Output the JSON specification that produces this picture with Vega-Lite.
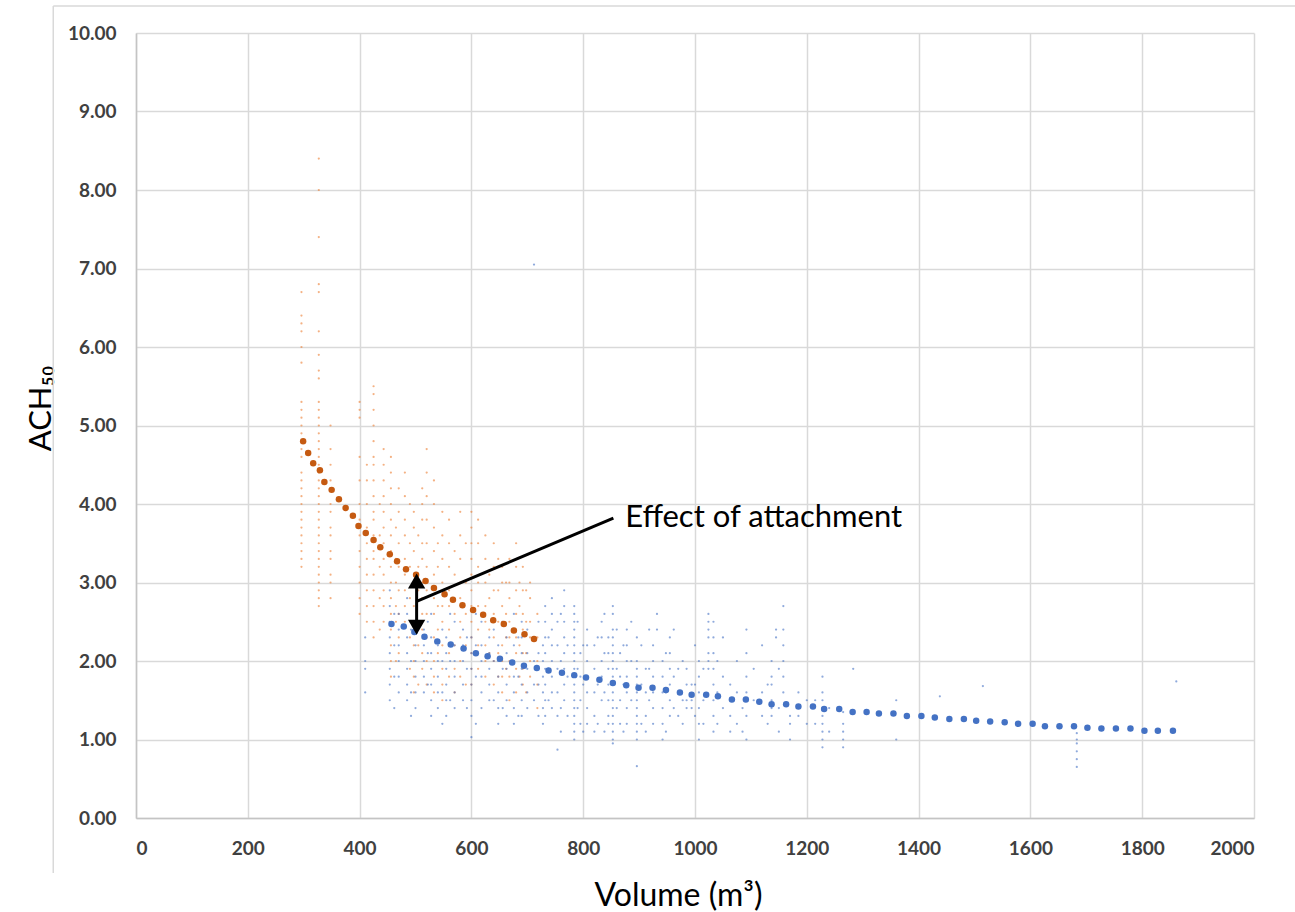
{
  "$schema": "https://vega.github.io/schema/vega-lite/v6.json",
  "width": 1118,
  "height": 785,
  "autosize": "none",
  "padding": {"left": 136, "top": 33, "right": 41, "bottom": 94},
  "background": "white",
  "config": {
    "view": {"stroke": null},
    "axis": {
      "labelFont": "Lato",
      "labelFontSize": 19,
      "labelFontWeight": "bold",
      "labelColor": "#404040",
      "titleFont": "Lato",
      "titleFontWeight": "normal",
      "titleColor": "#000000",
      "gridColor": "#d9d9d9",
      "gridWidth": 1.5,
      "domainColor": "#c4c4c4",
      "domainWidth": 1.5,
      "ticks": false
    }
  },
  "datasets": {
    "frame": [
      {"x": -148, "y": -0.70, "x2": -148, "y2": 10.345},
      {"x": -148, "y": 10.345, "x2": 2075, "y2": 10.345}
    ],
    "scatter": [
      {"s":"attached","x":296,"y":6.7},{"s":"attached","x":296,"y":6.4},{"s":"attached","x":296,"y":6.3},{"s":"attached","x":296,"y":6.2},{"s":"attached","x":296,"y":6.0},{"s":"attached","x":296,"y":5.8},{"s":"attached","x":296,"y":5.3},{"s":"attached","x":296,"y":5.2},{"s":"attached","x":296,"y":5.1},{"s":"attached","x":296,"y":5.0},{"s":"attached","x":296,"y":4.9},{"s":"attached","x":296,"y":4.7},{"s":"attached","x":296,"y":4.6},{"s":"attached","x":296,"y":4.4},{"s":"attached","x":296,"y":4.3},{"s":"attached","x":296,"y":4.2},{"s":"attached","x":296,"y":4.1},{"s":"attached","x":296,"y":4.0},{"s":"attached","x":296,"y":3.9},{"s":"attached","x":296,"y":3.8},{"s":"attached","x":296,"y":3.7},{"s":"attached","x":296,"y":3.6},{"s":"attached","x":296,"y":3.5},{"s":"attached","x":296,"y":3.4},{"s":"attached","x":296,"y":3.3},{"s":"attached","x":296,"y":3.2},
      {"s":"attached","x":327,"y":8.4},{"s":"attached","x":327,"y":8.0},{"s":"attached","x":327,"y":7.4},{"s":"attached","x":327,"y":6.8},{"s":"attached","x":327,"y":6.7},{"s":"attached","x":327,"y":6.2},{"s":"attached","x":327,"y":5.9},{"s":"attached","x":327,"y":5.7},{"s":"attached","x":327,"y":5.6},{"s":"attached","x":327,"y":5.3},{"s":"attached","x":327,"y":5.2},{"s":"attached","x":327,"y":5.1},{"s":"attached","x":327,"y":5.0},{"s":"attached","x":327,"y":4.9},{"s":"attached","x":327,"y":4.8},{"s":"attached","x":327,"y":4.7},{"s":"attached","x":327,"y":4.6},{"s":"attached","x":327,"y":4.5},{"s":"attached","x":327,"y":4.4},{"s":"attached","x":327,"y":4.3},{"s":"attached","x":327,"y":4.2},{"s":"attached","x":327,"y":4.1},{"s":"attached","x":327,"y":4.0},{"s":"attached","x":327,"y":3.9},{"s":"attached","x":327,"y":3.8},{"s":"attached","x":327,"y":3.7},{"s":"attached","x":327,"y":3.6},{"s":"attached","x":327,"y":3.5},{"s":"attached","x":327,"y":3.4},{"s":"attached","x":327,"y":3.3},{"s":"attached","x":327,"y":3.2},{"s":"attached","x":327,"y":3.1},{"s":"attached","x":327,"y":3.0},{"s":"attached","x":327,"y":2.9},{"s":"attached","x":327,"y":2.8},{"s":"attached","x":327,"y":2.7},
      {"s":"attached","x":348,"y":5.0},{"s":"attached","x":348,"y":4.7},{"s":"attached","x":348,"y":4.5},{"s":"attached","x":348,"y":4.3},{"s":"attached","x":348,"y":4.2},{"s":"attached","x":348,"y":4.0},{"s":"attached","x":348,"y":3.9},{"s":"attached","x":348,"y":3.7},{"s":"attached","x":348,"y":3.6},{"s":"attached","x":348,"y":3.4},{"s":"attached","x":348,"y":3.3},{"s":"attached","x":348,"y":3.1},{"s":"attached","x":348,"y":3.0},{"s":"attached","x":348,"y":2.8},
      {"s":"attached","x":400,"y":5.3},{"s":"attached","x":400,"y":5.2},{"s":"attached","x":400,"y":5.1},{"s":"attached","x":400,"y":4.6},{"s":"attached","x":400,"y":4.3},{"s":"attached","x":400,"y":4.0},{"s":"attached","x":400,"y":3.8},{"s":"attached","x":400,"y":3.6},{"s":"attached","x":400,"y":3.4},{"s":"attached","x":400,"y":3.2},{"s":"attached","x":400,"y":3.0},{"s":"attached","x":400,"y":2.8},{"s":"attached","x":400,"y":2.6},
      {"s":"attached","x":413,"y":4.5},{"s":"attached","x":413,"y":4.3},{"s":"attached","x":413,"y":4.0},{"s":"attached","x":413,"y":3.7},{"s":"attached","x":413,"y":3.5},{"s":"attached","x":413,"y":3.3},{"s":"attached","x":413,"y":3.1},{"s":"attached","x":413,"y":2.9},{"s":"attached","x":413,"y":2.7},{"s":"attached","x":413,"y":2.5},
      {"s":"attached","x":425,"y":5.5},{"s":"attached","x":425,"y":5.4},{"s":"attached","x":425,"y":5.2},{"s":"attached","x":425,"y":5.0},{"s":"attached","x":425,"y":4.8},{"s":"attached","x":425,"y":4.6},{"s":"attached","x":425,"y":4.5},{"s":"attached","x":425,"y":4.3},{"s":"attached","x":425,"y":4.1},{"s":"attached","x":425,"y":3.9},{"s":"attached","x":425,"y":3.8},{"s":"attached","x":425,"y":3.6},{"s":"attached","x":425,"y":3.4},{"s":"attached","x":425,"y":3.3},{"s":"attached","x":425,"y":3.1},{"s":"attached","x":425,"y":2.9},{"s":"attached","x":425,"y":2.7},{"s":"attached","x":425,"y":2.5},{"s":"attached","x":425,"y":2.3},
      {"s":"attached","x":436,"y":4.0},{"s":"attached","x":436,"y":3.6},{"s":"attached","x":436,"y":3.2},{"s":"attached","x":436,"y":2.8},{"s":"attached","x":436,"y":2.4},
      {"s":"attached","x":443,"y":4.7},{"s":"attached","x":443,"y":4.5},{"s":"attached","x":443,"y":4.3},{"s":"attached","x":443,"y":4.1},{"s":"attached","x":443,"y":3.9},{"s":"attached","x":443,"y":3.7},{"s":"attached","x":443,"y":3.5},{"s":"attached","x":443,"y":3.3},{"s":"attached","x":443,"y":3.1},{"s":"attached","x":443,"y":2.9},{"s":"attached","x":443,"y":2.7},{"s":"attached","x":443,"y":2.5},
      {"s":"attached","x":456,"y":4.6},{"s":"attached","x":456,"y":4.4},{"s":"attached","x":456,"y":4.2},{"s":"attached","x":456,"y":4.0},{"s":"attached","x":456,"y":3.8},{"s":"attached","x":456,"y":3.6},{"s":"attached","x":456,"y":3.4},{"s":"attached","x":456,"y":3.2},{"s":"attached","x":456,"y":3.0},{"s":"attached","x":456,"y":2.8},{"s":"attached","x":456,"y":2.6},{"s":"attached","x":456,"y":2.4},{"s":"attached","x":456,"y":2.2},{"s":"attached","x":456,"y":2.0},{"s":"attached","x":456,"y":1.8},
      {"s":"attached","x":465,"y":3.7},{"s":"attached","x":465,"y":3.3},{"s":"attached","x":465,"y":3.0},{"s":"attached","x":465,"y":2.7},{"s":"attached","x":465,"y":2.5},{"s":"attached","x":465,"y":2.0},
      {"s":"attached","x":470,"y":4.2},{"s":"attached","x":470,"y":3.9},{"s":"attached","x":470,"y":3.5},{"s":"attached","x":470,"y":3.2},{"s":"attached","x":470,"y":2.9},{"s":"attached","x":470,"y":2.6},{"s":"attached","x":470,"y":2.3},{"s":"attached","x":470,"y":2.1},
      {"s":"attached","x":481,"y":4.4},{"s":"attached","x":481,"y":4.1},{"s":"attached","x":481,"y":3.8},{"s":"attached","x":481,"y":3.6},{"s":"attached","x":481,"y":3.3},{"s":"attached","x":481,"y":3.1},{"s":"attached","x":481,"y":2.9},{"s":"attached","x":481,"y":2.7},{"s":"attached","x":481,"y":2.5},
      {"s":"attached","x":490,"y":4.0},{"s":"attached","x":490,"y":3.5},{"s":"attached","x":490,"y":3.2},{"s":"attached","x":490,"y":2.8},{"s":"attached","x":490,"y":2.3},{"s":"attached","x":490,"y":1.9},
      {"s":"attached","x":497,"y":3.9},{"s":"attached","x":497,"y":3.7},{"s":"attached","x":497,"y":3.4},{"s":"attached","x":497,"y":3.0},{"s":"attached","x":497,"y":2.7},{"s":"attached","x":497,"y":2.4},{"s":"attached","x":497,"y":2.2},{"s":"attached","x":497,"y":2.0},{"s":"attached","x":497,"y":1.8},{"s":"attached","x":497,"y":1.6},
      {"s":"attached","x":505,"y":3.6},{"s":"attached","x":505,"y":3.2},{"s":"attached","x":505,"y":2.9},{"s":"attached","x":505,"y":2.5},{"s":"attached","x":505,"y":2.2},{"s":"attached","x":505,"y":1.7},
      {"s":"attached","x":512,"y":4.2},{"s":"attached","x":512,"y":4.0},{"s":"attached","x":512,"y":3.8},{"s":"attached","x":512,"y":3.5},{"s":"attached","x":512,"y":3.3},{"s":"attached","x":512,"y":3.0},{"s":"attached","x":512,"y":2.8},{"s":"attached","x":512,"y":2.6},{"s":"attached","x":512,"y":2.4},{"s":"attached","x":512,"y":2.1},{"s":"attached","x":512,"y":1.9},
      {"s":"attached","x":520,"y":4.7},{"s":"attached","x":520,"y":4.4},{"s":"attached","x":520,"y":4.1},{"s":"attached","x":520,"y":3.8},{"s":"attached","x":520,"y":3.5},{"s":"attached","x":520,"y":3.2},{"s":"attached","x":520,"y":2.9},{"s":"attached","x":520,"y":2.6},{"s":"attached","x":520,"y":2.3},{"s":"attached","x":520,"y":2.0},{"s":"attached","x":520,"y":1.7},
      {"s":"attached","x":533,"y":4.3},{"s":"attached","x":533,"y":4.0},{"s":"attached","x":533,"y":3.7},{"s":"attached","x":533,"y":3.4},{"s":"attached","x":533,"y":3.1},{"s":"attached","x":533,"y":2.8},{"s":"attached","x":533,"y":2.6},{"s":"attached","x":533,"y":2.3},{"s":"attached","x":533,"y":2.0},{"s":"attached","x":533,"y":1.8},{"s":"attached","x":533,"y":1.6},
      {"s":"attached","x":540,"y":3.5},{"s":"attached","x":540,"y":3.2},{"s":"attached","x":540,"y":2.7},{"s":"attached","x":540,"y":2.4},{"s":"attached","x":540,"y":2.1},
      {"s":"attached","x":548,"y":3.9},{"s":"attached","x":548,"y":3.6},{"s":"attached","x":548,"y":3.3},{"s":"attached","x":548,"y":3.0},{"s":"attached","x":548,"y":2.7},{"s":"attached","x":548,"y":2.5},{"s":"attached","x":548,"y":2.2},{"s":"attached","x":548,"y":1.9},{"s":"attached","x":548,"y":1.7},{"s":"attached","x":548,"y":1.5},
      {"s":"attached","x":560,"y":3.8},{"s":"attached","x":560,"y":3.5},{"s":"attached","x":560,"y":3.2},{"s":"attached","x":560,"y":2.9},{"s":"attached","x":560,"y":2.7},{"s":"attached","x":560,"y":2.4},{"s":"attached","x":560,"y":2.1},{"s":"attached","x":560,"y":1.8},
      {"s":"attached","x":570,"y":3.4},{"s":"attached","x":570,"y":3.1},{"s":"attached","x":570,"y":2.6},{"s":"attached","x":570,"y":2.2},{"s":"attached","x":570,"y":1.9},{"s":"attached","x":570,"y":1.6},
      {"s":"attached","x":580,"y":3.9},{"s":"attached","x":580,"y":3.6},{"s":"attached","x":580,"y":3.3},{"s":"attached","x":580,"y":3.0},{"s":"attached","x":580,"y":2.8},{"s":"attached","x":580,"y":2.5},{"s":"attached","x":580,"y":2.3},{"s":"attached","x":580,"y":2.0},{"s":"attached","x":580,"y":1.8},
      {"s":"attached","x":590,"y":3.5},{"s":"attached","x":590,"y":3.0},{"s":"attached","x":590,"y":2.6},{"s":"attached","x":590,"y":2.2},{"s":"attached","x":590,"y":1.7},
      {"s":"attached","x":600,"y":3.9},{"s":"attached","x":600,"y":3.7},{"s":"attached","x":600,"y":3.5},{"s":"attached","x":600,"y":3.3},{"s":"attached","x":600,"y":3.1},{"s":"attached","x":600,"y":2.9},{"s":"attached","x":600,"y":2.7},{"s":"attached","x":600,"y":2.5},{"s":"attached","x":600,"y":2.3},{"s":"attached","x":600,"y":2.1},{"s":"attached","x":600,"y":1.9},{"s":"attached","x":600,"y":1.7},
      {"s":"attached","x":612,"y":3.8},{"s":"attached","x":612,"y":3.5},{"s":"attached","x":612,"y":3.2},{"s":"attached","x":612,"y":3.0},{"s":"attached","x":612,"y":2.7},{"s":"attached","x":612,"y":2.4},{"s":"attached","x":612,"y":2.2},{"s":"attached","x":612,"y":1.9},
      {"s":"attached","x":625,"y":3.6},{"s":"attached","x":625,"y":3.3},{"s":"attached","x":625,"y":3.0},{"s":"attached","x":625,"y":2.7},{"s":"attached","x":625,"y":2.5},{"s":"attached","x":625,"y":2.2},{"s":"attached","x":625,"y":2.0},{"s":"attached","x":625,"y":1.8},
      {"s":"attached","x":632,"y":3.1},{"s":"attached","x":632,"y":2.8},{"s":"attached","x":632,"y":2.4},{"s":"attached","x":632,"y":2.1},
      {"s":"attached","x":640,"y":3.5},{"s":"attached","x":640,"y":3.2},{"s":"attached","x":640,"y":2.9},{"s":"attached","x":640,"y":2.6},{"s":"attached","x":640,"y":2.3},{"s":"attached","x":640,"y":2.0},{"s":"attached","x":640,"y":1.7},
      {"s":"attached","x":648,"y":3.3},{"s":"attached","x":648,"y":2.9},{"s":"attached","x":648,"y":2.5},{"s":"attached","x":648,"y":2.1},{"s":"attached","x":648,"y":1.8},
      {"s":"attached","x":655,"y":3.2},{"s":"attached","x":655,"y":3.0},{"s":"attached","x":655,"y":2.7},{"s":"attached","x":655,"y":2.5},{"s":"attached","x":655,"y":2.2},{"s":"attached","x":655,"y":2.0},{"s":"attached","x":655,"y":1.8},{"s":"attached","x":655,"y":1.6},
      {"s":"attached","x":662,"y":3.0},{"s":"attached","x":662,"y":2.6},{"s":"attached","x":662,"y":2.3},{"s":"attached","x":662,"y":1.9},
      {"s":"attached","x":668,"y":3.3},{"s":"attached","x":668,"y":3.0},{"s":"attached","x":668,"y":2.8},{"s":"attached","x":668,"y":2.5},{"s":"attached","x":668,"y":2.3},{"s":"attached","x":668,"y":2.0},{"s":"attached","x":668,"y":1.8},{"s":"attached","x":668,"y":1.5},
      {"s":"attached","x":680,"y":3.5},{"s":"attached","x":680,"y":3.2},{"s":"attached","x":680,"y":2.9},{"s":"attached","x":680,"y":2.6},{"s":"attached","x":680,"y":2.3},{"s":"attached","x":680,"y":2.1},{"s":"attached","x":680,"y":1.9},{"s":"attached","x":680,"y":1.6},
      {"s":"attached","x":686,"y":3.0},{"s":"attached","x":686,"y":2.7},{"s":"attached","x":686,"y":2.2},{"s":"attached","x":686,"y":1.8},
      {"s":"attached","x":692,"y":3.2},{"s":"attached","x":692,"y":2.9},{"s":"attached","x":692,"y":2.6},{"s":"attached","x":692,"y":2.4},{"s":"attached","x":692,"y":2.1},{"s":"attached","x":692,"y":1.9},{"s":"attached","x":692,"y":1.7},
      {"s":"attached","x":698,"y":2.9},{"s":"attached","x":698,"y":2.5},{"s":"attached","x":698,"y":2.1},{"s":"attached","x":698,"y":1.6},
      {"s":"attached","x":705,"y":3.0},{"s":"attached","x":705,"y":2.8},{"s":"attached","x":705,"y":2.5},{"s":"attached","x":705,"y":2.3},{"s":"attached","x":705,"y":2.0},{"s":"attached","x":705,"y":1.8},
      {"s":"attached","x":718,"y":2.6},{"s":"attached","x":718,"y":2.3},{"s":"attached","x":718,"y":2.0},{"s":"attached","x":718,"y":1.7},{"s":"attached","x":718,"y":1.4},

      {"s":"detached","x":410,"y":2.3},{"s":"detached","x":410,"y":2.0},{"s":"detached","x":410,"y":1.9},{"s":"detached","x":410,"y":1.6},
      {"s":"detached","x":454,"y":2.9},{"s":"detached","x":454,"y":2.7},{"s":"detached","x":454,"y":2.5},{"s":"detached","x":454,"y":2.3},{"s":"detached","x":454,"y":2.1},{"s":"detached","x":454,"y":1.9},{"s":"detached","x":454,"y":1.7},{"s":"detached","x":454,"y":1.5},
      {"s":"detached","x":462,"y":2.6},{"s":"detached","x":462,"y":2.2},{"s":"detached","x":462,"y":1.8},{"s":"detached","x":462,"y":1.4},
      {"s":"detached","x":470,"y":2.6},{"s":"detached","x":470,"y":2.4},{"s":"detached","x":470,"y":2.2},{"s":"detached","x":470,"y":2.0},{"s":"detached","x":470,"y":1.8},{"s":"detached","x":470,"y":1.6},
      {"s":"detached","x":485,"y":2.8},{"s":"detached","x":485,"y":2.6},{"s":"detached","x":485,"y":2.3},{"s":"detached","x":485,"y":2.1},{"s":"detached","x":485,"y":1.9},{"s":"detached","x":485,"y":1.7},{"s":"detached","x":485,"y":1.5},
      {"s":"detached","x":492,"y":2.4},{"s":"detached","x":492,"y":2.0},{"s":"detached","x":492,"y":1.6},{"s":"detached","x":492,"y":1.3},
      {"s":"detached","x":500,"y":2.5},{"s":"detached","x":500,"y":2.2},{"s":"detached","x":500,"y":2.0},{"s":"detached","x":500,"y":1.8},{"s":"detached","x":500,"y":1.6},{"s":"detached","x":500,"y":1.4},
      {"s":"detached","x":515,"y":2.4},{"s":"detached","x":515,"y":2.2},{"s":"detached","x":515,"y":2.0},{"s":"detached","x":515,"y":1.8},{"s":"detached","x":515,"y":1.6},
      {"s":"detached","x":522,"y":2.5},{"s":"detached","x":522,"y":2.1},{"s":"detached","x":522,"y":1.7},
      {"s":"detached","x":528,"y":2.6},{"s":"detached","x":528,"y":2.3},{"s":"detached","x":528,"y":2.1},{"s":"detached","x":528,"y":1.9},{"s":"detached","x":528,"y":1.7},{"s":"detached","x":528,"y":1.5},{"s":"detached","x":528,"y":1.3},
      {"s":"detached","x":540,"y":2.2},{"s":"detached","x":540,"y":2.0},{"s":"detached","x":540,"y":1.8},{"s":"detached","x":540,"y":1.6},{"s":"detached","x":540,"y":1.4},
      {"s":"detached","x":548,"y":2.4},{"s":"detached","x":548,"y":2.0},{"s":"detached","x":548,"y":1.6},{"s":"detached","x":548,"y":1.2},
      {"s":"detached","x":555,"y":2.3},{"s":"detached","x":555,"y":2.1},{"s":"detached","x":555,"y":1.9},{"s":"detached","x":555,"y":1.7},{"s":"detached","x":555,"y":1.5},{"s":"detached","x":555,"y":1.3},
      {"s":"detached","x":562,"y":2.6},{"s":"detached","x":562,"y":2.0},{"s":"detached","x":562,"y":1.5},
      {"s":"detached","x":570,"y":2.5},{"s":"detached","x":570,"y":2.2},{"s":"detached","x":570,"y":2.0},{"s":"detached","x":570,"y":1.8},{"s":"detached","x":570,"y":1.6},{"s":"detached","x":570,"y":1.4},
      {"s":"detached","x":585,"y":2.4},{"s":"detached","x":585,"y":2.2},{"s":"detached","x":585,"y":2.0},{"s":"detached","x":585,"y":1.7},{"s":"detached","x":585,"y":1.5},
      {"s":"detached","x":592,"y":2.3},{"s":"detached","x":592,"y":1.9},{"s":"detached","x":592,"y":1.4},
      {"s":"detached","x":600,"y":2.3},{"s":"detached","x":600,"y":2.1},{"s":"detached","x":600,"y":1.9},{"s":"detached","x":600,"y":1.7},{"s":"detached","x":600,"y":1.5},{"s":"detached","x":600,"y":1.3},{"s":"detached","x":600,"y":1.03},
      {"s":"detached","x":608,"y":2.6},{"s":"detached","x":608,"y":2.2},{"s":"detached","x":608,"y":1.8},{"s":"detached","x":608,"y":1.2},
      {"s":"detached","x":618,"y":2.5},{"s":"detached","x":618,"y":2.2},{"s":"detached","x":618,"y":2.0},{"s":"detached","x":618,"y":1.8},{"s":"detached","x":618,"y":1.6},{"s":"detached","x":618,"y":1.4},
      {"s":"detached","x":632,"y":2.3},{"s":"detached","x":632,"y":2.1},{"s":"detached","x":632,"y":1.9},{"s":"detached","x":632,"y":1.7},{"s":"detached","x":632,"y":1.5},
      {"s":"detached","x":640,"y":2.4},{"s":"detached","x":640,"y":2.0},{"s":"detached","x":640,"y":1.5},
      {"s":"detached","x":648,"y":2.2},{"s":"detached","x":648,"y":2.0},{"s":"detached","x":648,"y":1.8},{"s":"detached","x":648,"y":1.6},{"s":"detached","x":648,"y":1.4},{"s":"detached","x":648,"y":1.2},
      {"s":"detached","x":656,"y":2.5},{"s":"detached","x":656,"y":1.9},{"s":"detached","x":656,"y":1.4},
      {"s":"detached","x":663,"y":2.3},{"s":"detached","x":663,"y":2.1},{"s":"detached","x":663,"y":1.9},{"s":"detached","x":663,"y":1.7},{"s":"detached","x":663,"y":1.5},{"s":"detached","x":663,"y":1.3},
      {"s":"detached","x":676,"y":2.6},{"s":"detached","x":676,"y":2.4},{"s":"detached","x":676,"y":2.2},{"s":"detached","x":676,"y":2.0},{"s":"detached","x":676,"y":1.8},{"s":"detached","x":676,"y":1.6},{"s":"detached","x":676,"y":1.4},{"s":"detached","x":676,"y":1.2},
      {"s":"detached","x":684,"y":2.3},{"s":"detached","x":684,"y":1.8},{"s":"detached","x":684,"y":1.3},
      {"s":"detached","x":690,"y":2.5},{"s":"detached","x":690,"y":2.3},{"s":"detached","x":690,"y":2.1},{"s":"detached","x":690,"y":1.9},{"s":"detached","x":690,"y":1.7},{"s":"detached","x":690,"y":1.5},{"s":"detached","x":690,"y":1.3},
      {"s":"detached","x":700,"y":2.4},{"s":"detached","x":700,"y":2.1},{"s":"detached","x":700,"y":1.9},{"s":"detached","x":700,"y":1.6},{"s":"detached","x":700,"y":1.4},
      {"s":"detached","x":712,"y":7.05},{"s":"detached","x":712,"y":2.3},{"s":"detached","x":712,"y":2.0},{"s":"detached","x":712,"y":1.7},{"s":"detached","x":712,"y":1.5},
      {"s":"detached","x":720,"y":2.5},{"s":"detached","x":720,"y":2.1},{"s":"detached","x":720,"y":1.7},{"s":"detached","x":720,"y":1.3},
      {"s":"detached","x":728,"y":2.2},{"s":"detached","x":728,"y":2.0},{"s":"detached","x":728,"y":1.8},{"s":"detached","x":728,"y":1.6},{"s":"detached","x":728,"y":1.4},{"s":"detached","x":728,"y":1.2},
      {"s":"detached","x":732,"y":2.7},{"s":"detached","x":732,"y":2.5},{"s":"detached","x":732,"y":2.3},{"s":"detached","x":732,"y":2.1},{"s":"detached","x":732,"y":1.9},{"s":"detached","x":732,"y":1.7},{"s":"detached","x":732,"y":1.5},{"s":"detached","x":732,"y":1.3},
      {"s":"detached","x":738,"y":2.3},{"s":"detached","x":738,"y":1.9},{"s":"detached","x":738,"y":1.5},
      {"s":"detached","x":744,"y":2.8},{"s":"detached","x":744,"y":2.6},{"s":"detached","x":744,"y":2.4},{"s":"detached","x":744,"y":2.2},{"s":"detached","x":744,"y":2.0},{"s":"detached","x":744,"y":1.8},{"s":"detached","x":744,"y":1.6},{"s":"detached","x":744,"y":1.4},
      {"s":"detached","x":754,"y":2.5},{"s":"detached","x":754,"y":2.2},{"s":"detached","x":754,"y":1.9},{"s":"detached","x":754,"y":1.6},{"s":"detached","x":754,"y":1.3},{"s":"detached","x":754,"y":0.87},
      {"s":"detached","x":760,"y":2.6},{"s":"detached","x":760,"y":2.0},{"s":"detached","x":760,"y":1.4},{"s":"detached","x":760,"y":1.1},
      {"s":"detached","x":766,"y":2.9},{"s":"detached","x":766,"y":2.7},{"s":"detached","x":766,"y":2.5},{"s":"detached","x":766,"y":2.3},{"s":"detached","x":766,"y":2.1},{"s":"detached","x":766,"y":1.9},{"s":"detached","x":766,"y":1.7},{"s":"detached","x":766,"y":1.5},
      {"s":"detached","x":772,"y":2.2},{"s":"detached","x":772,"y":1.8},{"s":"detached","x":772,"y":1.3},
      {"s":"detached","x":784,"y":2.7},{"s":"detached","x":784,"y":2.6},{"s":"detached","x":784,"y":2.5},{"s":"detached","x":784,"y":2.4},{"s":"detached","x":784,"y":2.3},{"s":"detached","x":784,"y":2.2},{"s":"detached","x":784,"y":2.1},{"s":"detached","x":784,"y":2.0},{"s":"detached","x":784,"y":1.9},{"s":"detached","x":784,"y":1.8},{"s":"detached","x":784,"y":1.7},{"s":"detached","x":784,"y":1.6},{"s":"detached","x":784,"y":1.5},{"s":"detached","x":784,"y":1.4},{"s":"detached","x":784,"y":1.3},{"s":"detached","x":784,"y":1.2},{"s":"detached","x":784,"y":1.1},{"s":"detached","x":784,"y":1.0},
      {"s":"detached","x":790,"y":2.5},{"s":"detached","x":790,"y":1.9},{"s":"detached","x":790,"y":1.4},
      {"s":"detached","x":795,"y":2.1},{"s":"detached","x":795,"y":1.8},{"s":"detached","x":795,"y":1.5},{"s":"detached","x":795,"y":1.2},
      {"s":"detached","x":800,"y":2.2},{"s":"detached","x":800,"y":1.7},{"s":"detached","x":800,"y":1.1},
      {"s":"detached","x":807,"y":2.4},{"s":"detached","x":807,"y":2.2},{"s":"detached","x":807,"y":2.0},{"s":"detached","x":807,"y":1.8},{"s":"detached","x":807,"y":1.6},{"s":"detached","x":807,"y":1.4},{"s":"detached","x":807,"y":1.2},
      {"s":"detached","x":820,"y":2.2},{"s":"detached","x":820,"y":1.9},{"s":"detached","x":820,"y":1.6},{"s":"detached","x":820,"y":1.3},{"s":"detached","x":820,"y":1.1},
      {"s":"detached","x":826,"y":2.3},{"s":"detached","x":826,"y":1.7},{"s":"detached","x":826,"y":1.2},
      {"s":"detached","x":833,"y":2.5},{"s":"detached","x":833,"y":2.3},{"s":"detached","x":833,"y":2.0},{"s":"detached","x":833,"y":1.8},{"s":"detached","x":833,"y":1.5},
      {"s":"detached","x":838,"y":2.6},{"s":"detached","x":838,"y":2.1},{"s":"detached","x":838,"y":1.6},{"s":"detached","x":838,"y":1.1},
      {"s":"detached","x":845,"y":2.3},{"s":"detached","x":845,"y":2.1},{"s":"detached","x":845,"y":1.9},{"s":"detached","x":845,"y":1.7},{"s":"detached","x":845,"y":1.5},{"s":"detached","x":845,"y":1.3},{"s":"detached","x":845,"y":1.2},
      {"s":"detached","x":853,"y":2.7},{"s":"detached","x":853,"y":2.6},{"s":"detached","x":853,"y":2.4},{"s":"detached","x":853,"y":2.3},{"s":"detached","x":853,"y":2.2},{"s":"detached","x":853,"y":2.1},{"s":"detached","x":853,"y":2.0},{"s":"detached","x":853,"y":1.9},{"s":"detached","x":853,"y":1.8},{"s":"detached","x":853,"y":1.7},{"s":"detached","x":853,"y":1.6},{"s":"detached","x":853,"y":1.5},{"s":"detached","x":853,"y":1.4},{"s":"detached","x":853,"y":1.3},{"s":"detached","x":853,"y":1.2},{"s":"detached","x":853,"y":1.1},{"s":"detached","x":853,"y":1.0},{"s":"detached","x":853,"y":0.95},
      {"s":"detached","x":860,"y":2.4},{"s":"detached","x":860,"y":1.9},{"s":"detached","x":860,"y":1.4},
      {"s":"detached","x":866,"y":2.1},{"s":"detached","x":866,"y":1.8},{"s":"detached","x":866,"y":1.5},{"s":"detached","x":866,"y":1.2},
      {"s":"detached","x":872,"y":2.2},{"s":"detached","x":872,"y":1.7},{"s":"detached","x":872,"y":1.1},
      {"s":"detached","x":878,"y":2.4},{"s":"detached","x":878,"y":2.2},{"s":"detached","x":878,"y":2.0},{"s":"detached","x":878,"y":1.8},{"s":"detached","x":878,"y":1.6},{"s":"detached","x":878,"y":1.4},{"s":"detached","x":878,"y":1.2},
      {"s":"detached","x":886,"y":2.5},{"s":"detached","x":886,"y":2.0},{"s":"detached","x":886,"y":1.5},
      {"s":"detached","x":896,"y":2.3},{"s":"detached","x":896,"y":2.0},{"s":"detached","x":896,"y":1.9},{"s":"detached","x":896,"y":1.8},{"s":"detached","x":896,"y":1.7},{"s":"detached","x":896,"y":1.6},{"s":"detached","x":896,"y":1.5},{"s":"detached","x":896,"y":1.4},{"s":"detached","x":896,"y":1.3},{"s":"detached","x":896,"y":1.2},{"s":"detached","x":896,"y":1.1},{"s":"detached","x":896,"y":1.0},{"s":"detached","x":896,"y":0.66},
      {"s":"detached","x":904,"y":2.2},{"s":"detached","x":904,"y":1.7},{"s":"detached","x":904,"y":1.2},
      {"s":"detached","x":912,"y":1.9},{"s":"detached","x":912,"y":1.6},{"s":"detached","x":912,"y":1.3},{"s":"detached","x":912,"y":1.1},
      {"s":"detached","x":918,"y":2.4},{"s":"detached","x":918,"y":1.9},{"s":"detached","x":918,"y":1.5},
      {"s":"detached","x":925,"y":2.2},{"s":"detached","x":925,"y":2.0},{"s":"detached","x":925,"y":1.8},{"s":"detached","x":925,"y":1.6},{"s":"detached","x":925,"y":1.4},{"s":"detached","x":925,"y":1.2},
      {"s":"detached","x":932,"y":2.6},{"s":"detached","x":932,"y":2.4},
      {"s":"detached","x":942,"y":2.0},{"s":"detached","x":942,"y":1.8},{"s":"detached","x":942,"y":1.6},{"s":"detached","x":942,"y":1.4},{"s":"detached","x":942,"y":1.2},{"s":"detached","x":942,"y":1.0},
      {"s":"detached","x":948,"y":2.1},{"s":"detached","x":948,"y":1.6},{"s":"detached","x":948,"y":1.1},
      {"s":"detached","x":955,"y":2.3},{"s":"detached","x":955,"y":2.1},{"s":"detached","x":955,"y":1.9},{"s":"detached","x":955,"y":1.7},{"s":"detached","x":955,"y":1.5},{"s":"detached","x":955,"y":1.3},
      {"s":"detached","x":962,"y":2.4},{"s":"detached","x":962,"y":1.8},{"s":"detached","x":962,"y":1.4},
      {"s":"detached","x":970,"y":1.9},{"s":"detached","x":970,"y":1.6},{"s":"detached","x":970,"y":1.3},
      {"s":"detached","x":978,"y":2.0},{"s":"detached","x":978,"y":1.5},{"s":"detached","x":978,"y":1.2},
      {"s":"detached","x":985,"y":1.9},{"s":"detached","x":985,"y":1.7},{"s":"detached","x":985,"y":1.5},{"s":"detached","x":985,"y":1.4},
      {"s":"detached","x":994,"y":1.7},{"s":"detached","x":994,"y":1.5},{"s":"detached","x":994,"y":1.4},
      {"s":"detached","x":1000,"y":2.2},{"s":"detached","x":1000,"y":1.7},{"s":"detached","x":1000,"y":1.3},
      {"s":"detached","x":1007,"y":2.0},{"s":"detached","x":1007,"y":1.8},{"s":"detached","x":1007,"y":1.6},{"s":"detached","x":1007,"y":1.4},{"s":"detached","x":1007,"y":1.2},{"s":"detached","x":1007,"y":1.0},
      {"s":"detached","x":1015,"y":1.9},{"s":"detached","x":1015,"y":1.5},{"s":"detached","x":1015,"y":1.2},
      {"s":"detached","x":1024,"y":2.6},{"s":"detached","x":1024,"y":2.5},{"s":"detached","x":1024,"y":2.4},{"s":"detached","x":1024,"y":2.3},{"s":"detached","x":1024,"y":2.1},{"s":"detached","x":1024,"y":2.0},{"s":"detached","x":1024,"y":1.9},
      {"s":"detached","x":1033,"y":2.5},{"s":"detached","x":1033,"y":2.3},{"s":"detached","x":1033,"y":2.1},{"s":"detached","x":1033,"y":1.9},{"s":"detached","x":1033,"y":1.7},{"s":"detached","x":1033,"y":1.5},{"s":"detached","x":1033,"y":1.3},{"s":"detached","x":1033,"y":1.1},
      {"s":"detached","x":1040,"y":2.0},{"s":"detached","x":1040,"y":1.6},{"s":"detached","x":1040,"y":1.2},
      {"s":"detached","x":1050,"y":2.3},{"s":"detached","x":1050,"y":1.8},{"s":"detached","x":1050,"y":1.4},
      {"s":"detached","x":1063,"y":1.7},{"s":"detached","x":1063,"y":1.5},{"s":"detached","x":1063,"y":1.3},{"s":"detached","x":1063,"y":1.1},
      {"s":"detached","x":1075,"y":2.0},{"s":"detached","x":1075,"y":1.6},{"s":"detached","x":1075,"y":1.2},
      {"s":"detached","x":1085,"y":1.4},{"s":"detached","x":1085,"y":1.1},
      {"s":"detached","x":1092,"y":2.4},{"s":"detached","x":1092,"y":2.1},{"s":"detached","x":1092,"y":1.8},{"s":"detached","x":1092,"y":1.6},{"s":"detached","x":1092,"y":1.3},{"s":"detached","x":1092,"y":1.0},
      {"s":"detached","x":1105,"y":1.9},{"s":"detached","x":1105,"y":1.5},
      {"s":"detached","x":1120,"y":2.2},{"s":"detached","x":1120,"y":1.6},{"s":"detached","x":1120,"y":1.3},
      {"s":"detached","x":1130,"y":1.7},{"s":"detached","x":1130,"y":1.2},
      {"s":"detached","x":1137,"y":2.0},{"s":"detached","x":1137,"y":1.8},{"s":"detached","x":1137,"y":1.7},{"s":"detached","x":1137,"y":1.5},{"s":"detached","x":1137,"y":1.4},{"s":"detached","x":1137,"y":1.3},
      {"s":"detached","x":1145,"y":2.4},{"s":"detached","x":1145,"y":2.3},
      {"s":"detached","x":1150,"y":1.9},{"s":"detached","x":1150,"y":1.4},{"s":"detached","x":1150,"y":1.1},
      {"s":"detached","x":1158,"y":2.7},{"s":"detached","x":1158,"y":2.4},{"s":"detached","x":1158,"y":2.2},{"s":"detached","x":1158,"y":2.0},{"s":"detached","x":1158,"y":1.8},{"s":"detached","x":1158,"y":1.6},
      {"s":"detached","x":1170,"y":1.3},{"s":"detached","x":1170,"y":1.2},{"s":"detached","x":1170,"y":1.0},
      {"s":"detached","x":1185,"y":1.6},{"s":"detached","x":1185,"y":1.3},
      {"s":"detached","x":1200,"y":1.5},{"s":"detached","x":1200,"y":1.2},
      {"s":"detached","x":1215,"y":1.5},{"s":"detached","x":1215,"y":1.2},
      {"s":"detached","x":1228,"y":1.8},{"s":"detached","x":1228,"y":1.6},{"s":"detached","x":1228,"y":1.5},{"s":"detached","x":1228,"y":1.4},{"s":"detached","x":1228,"y":1.3},{"s":"detached","x":1228,"y":1.2},{"s":"detached","x":1228,"y":1.1},{"s":"detached","x":1228,"y":1.0},{"s":"detached","x":1228,"y":0.9},
      {"s":"detached","x":1240,"y":1.4},{"s":"detached","x":1240,"y":1.1},
      {"s":"detached","x":1265,"y":1.35},{"s":"detached","x":1265,"y":1.2},{"s":"detached","x":1265,"y":1.1},{"s":"detached","x":1265,"y":1.0},{"s":"detached","x":1265,"y":0.9},
      {"s":"detached","x":1283,"y":1.9},
      {"s":"detached","x":1360,"y":1.5},{"s":"detached","x":1360,"y":1.0},
      {"s":"detached","x":1438,"y":1.55},
      {"s":"detached","x":1515,"y":1.68},
      {"s":"detached","x":1683,"y":1.08},{"s":"detached","x":1683,"y":1.0},{"s":"detached","x":1683,"y":0.95},{"s":"detached","x":1683,"y":0.85},{"s":"detached","x":1683,"y":0.75},{"s":"detached","x":1683,"y":0.65},
      {"s":"detached","x":1861,"y":1.74}
    ],
    "trend": [
      {"s":"attached","x":299,"y":4.80},{"s":"attached","x":308,"y":4.65},{"s":"attached","x":317,"y":4.52},{"s":"attached","x":329,"y":4.43},{"s":"attached","x":337,"y":4.28},{"s":"attached","x":350,"y":4.18},{"s":"attached","x":363,"y":4.06},{"s":"attached","x":375,"y":3.95},{"s":"attached","x":388,"y":3.85},{"s":"attached","x":398,"y":3.72},{"s":"attached","x":411,"y":3.63},{"s":"attached","x":425,"y":3.54},{"s":"attached","x":437,"y":3.45},{"s":"attached","x":454,"y":3.36},{"s":"attached","x":467,"y":3.27},{"s":"attached","x":483,"y":3.17},{"s":"attached","x":501,"y":3.10},{"s":"attached","x":518,"y":3.02},{"s":"attached","x":533,"y":2.93},{"s":"attached","x":552,"y":2.85},{"s":"attached","x":567,"y":2.78},{"s":"attached","x":584,"y":2.71},{"s":"attached","x":603,"y":2.65},{"s":"attached","x":621,"y":2.59},{"s":"attached","x":639,"y":2.52},{"s":"attached","x":658,"y":2.47},{"s":"attached","x":676,"y":2.39},{"s":"attached","x":695,"y":2.34},{"s":"attached","x":712,"y":2.28},
      {"s":"detached","x":457,"y":2.47},{"s":"detached","x":479,"y":2.44},{"s":"detached","x":498,"y":2.37},{"s":"detached","x":516,"y":2.31},{"s":"detached","x":539,"y":2.25},{"s":"detached","x":563,"y":2.21},{"s":"detached","x":586,"y":2.16},{"s":"detached","x":608,"y":2.10},{"s":"detached","x":629,"y":2.06},{"s":"detached","x":651,"y":2.03},{"s":"detached","x":673,"y":1.98},{"s":"detached","x":694,"y":1.94},{"s":"detached","x":717,"y":1.91},{"s":"detached","x":738,"y":1.88},{"s":"detached","x":762,"y":1.85},{"s":"detached","x":784,"y":1.82},{"s":"detached","x":805,"y":1.79},{"s":"detached","x":829,"y":1.76},{"s":"detached","x":853,"y":1.72},{"s":"detached","x":877,"y":1.69},{"s":"detached","x":899,"y":1.66},{"s":"detached","x":924,"y":1.66},{"s":"detached","x":948,"y":1.63},{"s":"detached","x":973,"y":1.60},{"s":"detached","x":994,"y":1.57},{"s":"detached","x":1020,"y":1.57},{"s":"detached","x":1041,"y":1.55},{"s":"detached","x":1066,"y":1.51},{"s":"detached","x":1091,"y":1.51},{"s":"detached","x":1115,"y":1.48},{"s":"detached","x":1137,"y":1.45},{"s":"detached","x":1163,"y":1.45},{"s":"detached","x":1185,"y":1.42},{"s":"detached","x":1211,"y":1.42},{"s":"detached","x":1231,"y":1.39},{"s":"detached","x":1258,"y":1.39},{"s":"detached","x":1282,"y":1.35},{"s":"detached","x":1307,"y":1.35},{"s":"detached","x":1329,"y":1.33},{"s":"detached","x":1355,"y":1.33},{"s":"detached","x":1379,"y":1.30},{"s":"detached","x":1405,"y":1.30},{"s":"detached","x":1429,"y":1.28},{"s":"detached","x":1455,"y":1.26},{"s":"detached","x":1481,"y":1.26},{"s":"detached","x":1503,"y":1.24},{"s":"detached","x":1528,"y":1.23},{"s":"detached","x":1554,"y":1.22},{"s":"detached","x":1578,"y":1.20},{"s":"detached","x":1604,"y":1.20},{"s":"detached","x":1626,"y":1.17},{"s":"detached","x":1652,"y":1.17},{"s":"detached","x":1678,"y":1.17},{"s":"detached","x":1702,"y":1.15},{"s":"detached","x":1727,"y":1.14},{"s":"detached","x":1753,"y":1.14},{"s":"detached","x":1779,"y":1.14},{"s":"detached","x":1804,"y":1.11},{"s":"detached","x":1828,"y":1.11},{"s":"detached","x":1855,"y":1.11}
    ],
    "gap": [
      {"x": 502, "y": 2.45, "y2": 3.0}
    ],
    "leader": [
      {"x": 502, "y": 2.76, "x2": 854, "y2": 3.82}
    ],
    "heads": [
      {"x": 502, "y": 3.02, "dir": "up"},
      {"x": 502, "y": 2.43, "dir": "down"}
    ],
    "note": [
      {"x": 875, "y": 3.82, "label": "Effect of attachment"}
    ]
  },
  "encoding": {
    "x": {
      "field": "x",
      "type": "quantitative",
      "scale": {"domain": [0, 2000], "nice": false, "zero": false},
      "axis": {
        "values": [0, 200, 400, 600, 800, 1000, 1200, 1400, 1600, 1800, 2000],
        "format": "d",
        "labelPadding": 21,
        "title": "Volume (m³)",
        "titleFontSize": 32,
        "titleBaseline": "alphabetic",
        "titleX": 542,
        "titleY": 87
      }
    },
    "y": {
      "field": "y",
      "type": "quantitative",
      "scale": {"domain": [0, 10], "nice": false, "zero": false},
      "axis": {
        "values": [0, 1, 2, 3, 4, 5, 6, 7, 8, 9, 10],
        "format": ".2f",
        "labelPadding": 20,
        "title": "ACH₅₀",
        "titleFontSize": 31,
        "titleBaseline": "alphabetic",
        "titleX": -86,
        "titleY": 375
      }
    }
  },
  "layer": [
    {
      "data": {"name": "frame"},
      "mark": {"type": "rule", "color": "#d9d9d9", "strokeWidth": 1.5, "clip": false},
      "encoding": {
        "x2": {"field": "x2"},
        "y2": {"field": "y2"}
      }
    },
    {
      "data": {"name": "scatter"},
      "mark": {"type": "point", "shape": "circle", "filled": true, "size": 5, "opacity": 0.6},
      "encoding": {
        "color": {
          "field": "s",
          "type": "nominal",
          "scale": {"domain": ["attached", "detached"], "range": ["#ed7d31", "#4472c4"]},
          "legend": null
        }
      }
    },
    {
      "data": {"name": "trend"},
      "mark": {"type": "point", "shape": "circle", "filled": true, "size": 42, "opacity": 1},
      "encoding": {
        "color": {
          "field": "s",
          "type": "nominal",
          "scale": {"domain": ["attached", "detached"], "range": ["#c55a11", "#4472c4"]},
          "legend": null
        }
      }
    },
    {
      "data": {"name": "gap"},
      "mark": {"type": "rule", "color": "#000000", "strokeWidth": 3},
      "encoding": {"y2": {"field": "y2"}}
    },
    {
      "data": {"name": "leader"},
      "mark": {"type": "rule", "color": "#000000", "strokeWidth": 3},
      "encoding": {"x2": {"field": "x2"}, "y2": {"field": "y2"}}
    },
    {
      "data": {"name": "heads"},
      "mark": {"type": "point", "filled": true, "size": 300, "color": "#000000", "opacity": 1},
      "encoding": {
        "shape": {
          "field": "dir",
          "type": "nominal",
          "scale": {"domain": ["up", "down"], "range": ["triangle-up", "triangle-down"]},
          "legend": null
        }
      }
    },
    {
      "data": {"name": "note"},
      "mark": {"type": "text", "align": "left", "baseline": "middle", "font": "Lato", "fontSize": 31, "color": "#000000"},
      "encoding": {"text": {"field": "label"}}
    }
  ],
  "resolve": {"scale": {"color": "independent"}}
}
